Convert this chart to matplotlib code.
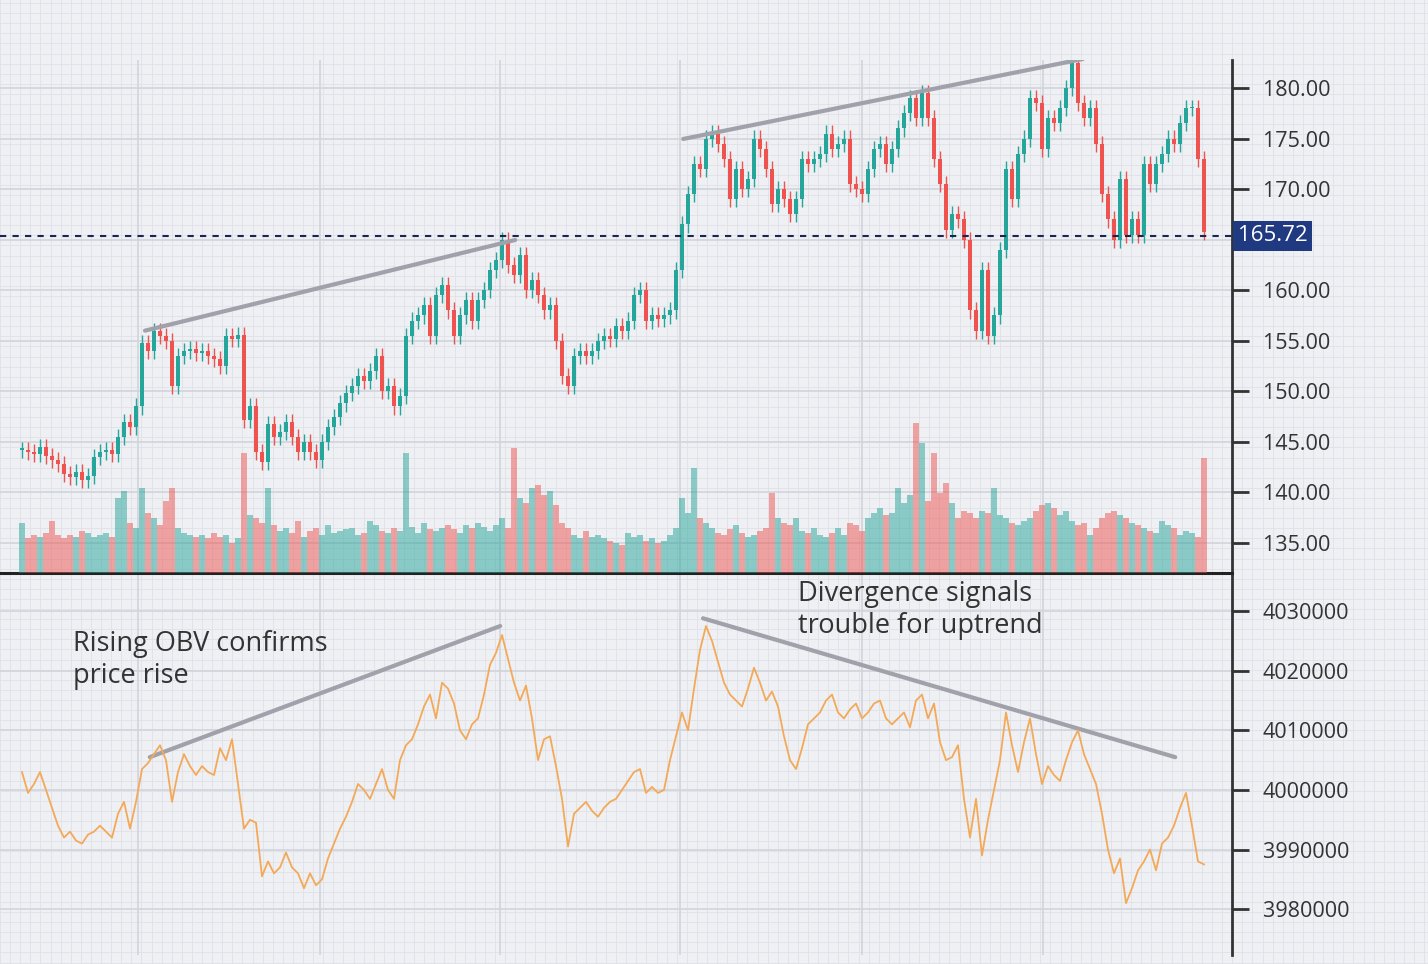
import matplotlib
matplotlib.use("Agg")
import matplotlib.pyplot as plt
import numpy as np

plt.rcParams["font.family"] = "Open Sans"

closes = [144.2,144.0,143.8,144.5,143.6,143.2,142.8,141.8,141.5,142.0,141.2,141.6,143.5,144.0,144.2,143.8,
          145.5,147.0,146.5,148.5,154.8,154.0,156.0,155.5,155.0,150.5,153.5,154.0,154.2,153.8,154.0,153.5,
          153.2,152.5,155.5,155.2,155.6,147.2,148.5,144.0,143.0,146.8,145.5,146.0,147.0,145.5,144.0,145.0,
          144.0,143.2,145.0,146.5,147.5,148.8,149.8,150.5,151.5,151.0,152.0,153.5,150.0,150.5,148.5,149.5,
          155.5,157.0,157.5,158.5,155.5,159.5,160.5,158.0,155.5,157.5,159.0,157.0,159.0,160.0,162.0,163.0,
          165.0,162.5,161.5,163.5,160.0,161.0,159.5,158.0,158.5,155.0,151.5,150.5,153.5,154.0,153.5,154.0,
          155.0,155.5,155.2,156.5,156.0,157.0,159.5,160.0,157.0,157.5,157.2,157.5,158.0,162.0,166.5,169.5,
          172.5,172.0,175.0,175.5,174.5,173.0,169.0,172.0,170.0,171.0,175.0,174.0,172.0,168.5,170.0,169.0,
          167.5,169.0,173.0,172.5,173.0,173.5,175.5,174.0,174.5,175.0,170.5,170.0,169.5,172.0,174.0,174.5,
          172.5,174.0,176.0,177.5,179.0,177.0,179.5,177.0,173.0,170.5,166.0,167.5,167.0,165.0,158.0,156.0,
          162.0,155.5,157.5,164.0,172.0,169.0,173.5,175.0,179.0,178.5,174.0,177.0,176.5,178.0,180.0,182.5,
          178.5,177.0,178.0,174.5,169.5,167.0,165.0,171.0,165.5,167.0,165.5,172.5,170.5,172.5,173.5,175.0,
          174.5,176.5,178.0,178.0,173.0,165.72]

volumes = [50,35,38,36,40,52,38,35,38,36,42,40,36,38,40,36,75,82,50,45,85,60,55,48,72,85,45,40,38,36,
           38,35,40,36,38,30,35,120,58,55,50,85,48,42,45,40,52,36,42,45,38,48,40,42,44,45,38,40,52,48,
           42,40,45,42,120,46,40,50,44,42,45,48,44,40,48,45,50,46,42,48,55,45,125,75,70,85,88,78,82,68,
           50,45,38,35,42,36,38,35,32,30,28,40,36,38,32,35,30,32,38,45,75,60,105,55,50,45,40,38,44,48,
           40,36,38,42,45,80,55,50,48,55,42,40,45,38,36,40,45,38,50,48,42,55,60,65,58,60,85,70,78,150,
           130,72,120,80,90,70,55,62,60,55,62,60,85,58,55,50,48,52,55,62,68,70,65,58,62,52,48,50,38,45,
           55,60,62,58,55,50,48,45,42,40,52,48,45,38,42,40,36,115]

obv = [4003,3999.5,4001,4003,4000,3997,3994,3992,3993,3991.5,3991,3992.5,3993,3994,3993,3992,3996,3998,
       3993.5,3998,4003.5,4004.5,4006,4007.5,4005,3998,4003,4006,4004,4002.5,4004,4003,4002.5,4007,4005,
       4008.5,4001,3993.5,3995,3994.5,3985.5,3988,3986,3987,3989.5,3987,3986,3983.5,3986,3984,3985,3988.5,
       3991,3993.5,3995.5,3998,4001,4000,3998.5,4001,4003.5,4000,3998.5,4005,4007.5,4008.5,4011,4014,4016,
       4012,4018,4017,4014.5,4010,4008.5,4011,4012,4016,4021,4023,4026,4022,4018,4015,4017.5,4012,4005,
       4008.5,4009,4004,3998.5,3990.5,3996,3997,3998,3996.5,3995.5,3997,3998,3998.5,4000,4001.5,4003,
       4003.5,3999.5,4000.5,3999.5,4000,4005,4009,4013,4010,4017,4023.5,4027.5,4025,4021.5,4018,4016,4015,
       4014,4017,4020.5,4018,4015,4016.5,4014,4009,4005,4003.5,4007,4011,4012,4013,4015,4016,4013,4012,
       4013.5,4014.5,4012,4013,4014.5,4015,4012,4011,4012,4013,4010.5,4015,4016,4012,4014.5,4008,4005,
       4005.5,4007.5,3998.5,3992,3998.5,3989,3995,4000,4005,4013,4007.5,4003,4008,4012,4006,4001,4004,
       4002.5,4001.5,4005,4008,4010,4006,4003.5,4001,3996,3990,3986,3988.5,3981,3983.5,3986.5,3988,3990,
       3986.5,3991,3992,3994,3997,3999.5,3994,3988,3987.5]

price_ticks = [135, 140, 145, 150, 155, 160, 165, 170, 175, 180]
obv_ticks = [3980000, 3990000, 4000000, 4010000, 4020000, 4030000]
last_price = 165.72

n = min(len(closes), len(volumes), len(obv))
idx = np.arange(n)
c = np.array(closes[:n])
o = np.concatenate([[closes[0]], c[:-1]])
up = c >= o
TEAL, RED = "#26a69a", "#ef5350"
cols = np.where(up, TEAL, RED)
obv_v = np.array(obv[:n]) * 1000
vol_v = np.array(volumes[:n])

W, H = 1428, 964
fig = plt.figure(figsize=(W / 100, H / 100), dpi=100)
fig.patch.set_facecolor("#eef0f4")

bg = fig.add_axes([0, 0, 1, 1])
bg.set_xlim(0, W); bg.set_ylim(H, 0)
bg.set_facecolor("#eef0f4")
for xx in np.arange(0, W, 10.1):
    bg.axvline(xx, color="#dfe1e8", lw=0.6)
for yy in np.arange(3, H, 10.1):
    bg.axhline(yy, color="#dfe1e8", lw=0.6)
bg.axis("off")

x0, x1 = -22 / 6, (1232 - 22) / 6
axw = 1232 / W
ax = fig.add_axes([0, 1 - 573 / H, axw, (573 - 60) / H])
ax2 = fig.add_axes([0, 1 - 955 / H, axw, (955 - 573) / H])
axv = ax.twinx()

for a in (ax, ax2, axv):
    a.patch.set_alpha(0)
    a.set_xlim(x0, x1)

axv.bar(idx, vol_v, width=0.95, color=cols, alpha=0.5, zorder=1)
axv.set_ylim(0, 513)
axv.axis("off")

ax.set_ylim(132.03, 182.77)
bot = np.minimum(o, c); top = np.maximum(o, c)
hgt = np.maximum(top - bot, 0.15)
ax.vlines(idx, bot - 0.8, top + 0.8, color=cols, lw=1.0, zorder=3)
ax.bar(idx, hgt, bottom=bot, width=0.68, color=cols, zorder=4)
ax.axhline(last_price - 0.35, color="#1c2550", lw=1.5, ls=(0, (3, 3)), zorder=5)
ax.plot([20.5, 82.2], [156.0, 164.97], color="#a0a1aa", lw=3, solid_capstyle="round", zorder=6)
ax.plot([110.2, 176.8], [174.96, 182.87], color="#a0a1aa", lw=3, solid_capstyle="round", zorder=6)

ax2.set_ylim(3972300, 4036400)
ax2.plot(idx, obv_v, color="#f4a958", lw=1.3, zorder=3)
ax2.plot([21.3, 79.7], [4005500, 4027500], color="#a0a1aa", lw=3, solid_capstyle="round")
ax2.plot([113.5, 192.2], [4028800, 4005500], color="#a0a1aa", lw=3, solid_capstyle="round")

vgrid = [19.3, 49.6, 79.6, 109.6, 140, 170.2]
for a, ticks in ((ax, price_ticks), (ax2, obv_ticks)):
    a.set_yticks(ticks)
    a.set_xticks(vgrid)
    a.set_xticklabels([])
    a.tick_params(axis="x", length=0)
    a.grid(True, color="#d2d4db", lw=1.2, zorder=0)
    a.set_axisbelow(True)
    a.yaxis.tick_right()
    a.tick_params(axis="y", length=12, width=2, color="#333333", labelsize=15.5,
                  labelcolor="#333333", pad=10, direction="out")
    for s in ("left", "top", "bottom"):
        a.spines[s].set_visible(False)
    a.spines["right"].set_color("#333333")
    a.spines["right"].set_linewidth(2)

ax.set_yticklabels(["" if t == 165 else f"{t:.2f}" for t in price_ticks])
ax2.set_yticklabels([str(t) for t in obv_ticks])
ax2.spines["top"].set_visible(True)
ax2.spines["top"].set_color("#222222")
ax2.spines["top"].set_linewidth(2.2)

ax.text(1.0045, last_price - 0.35, f"{last_price:.2f}", transform=ax.get_yaxis_transform(),
        va="center", ha="left", fontsize=16, color="white",
        bbox=dict(boxstyle="square,pad=0.2", fc="#1f3a80", ec="none"), zorder=10)

fig.text(73 / W, 1 - 630 / H, "Rising OBV confirms\nprice rise", fontsize=19.5, color="#333333",
         va="top", ha="left", linespacing=1.2)
fig.text(798 / W, 1 - 580 / H, "Divergence signals\ntrouble for uptrend", fontsize=19.5, color="#333333",
         va="top", ha="left", linespacing=1.2)

fig.savefig("out.png", dpi=100, facecolor=fig.get_facecolor())
